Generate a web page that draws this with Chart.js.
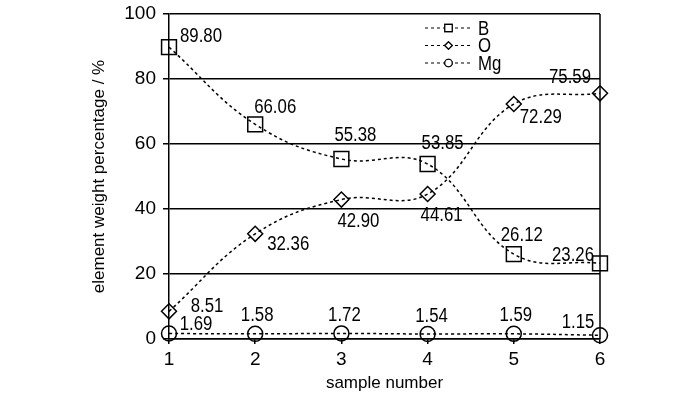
<!DOCTYPE html>
<html>
<head>
<meta charset="utf-8">
<script src="https://cdn.jsdelivr.net/npm/chart.js@4/dist/chart.umd.min.js"></script>
<style>
  html, body { margin: 0; padding: 0; background: #fff; }
</style>
</head>
<body>
<canvas id="chart" width="700" height="398"></canvas>
<script>
const samples = ['1', '2', '3', '4', '5', '6'];
const boron = [89.80, 66.06, 55.38, 53.85, 26.12, 23.26];
const oxygen = [8.51, 32.36, 42.90, 44.61, 72.29, 75.59];
const magnesium = [1.69, 1.58, 1.72, 1.54, 1.59, 1.15];
const yTicks = [0, 20, 40, 60, 80, 100];

// where each value label sits relative to its marker (dx, dy)
const labelOffsets = [
  [[32, -11], [20, -17], [14, -24], [15, -21], [8, -19], [-27, -8]],
  [[38, -5], [33, 11], [17, 22], [14, 21], [27, 13], [-30, -16]],
  [[27, -9], [2, -18], [3, -18], [4, -18], [2, -18], [-22, -13]]
];

// the original uses Arial Narrow; use it if present, otherwise squeeze Liberation Sans
function hasFont(name) {
  const c = document.createElement('canvas').getContext('2d');
  const s = 'abcdefghijklmnopqrstuvwxyz0123456789';
  c.font = '40px monospace';
  const w = c.measureText(s).width;
  c.font = `40px '${name}', monospace`;
  return c.measureText(s).width !== w;
}
const narrow = ['Liberation Sans Narrow', 'Arial Narrow'].find(hasFont);
const FONT = narrow ? `'${narrow}', sans-serif` : "'Liberation Sans', Arial, sans-serif";
const tickSize = narrow ? 20 : 19;
const titleSize = narrow ? 19 : 17;
const squeeze = narrow ? 1 : 0.84;

function series(label, data, style, radius) {
  return {
    label,
    data,
    borderColor: '#000',
    borderWidth: 1.5,
    borderDash: [3, 3],
    tension: 0.4,
    pointStyle: style,
    pointRadius: radius,
    pointBorderWidth: 1.5,
    pointBorderColor: '#000',
    pointBackgroundColor: 'rgba(0,0,0,0)',
    legendRadius: radius * 0.5,
    clip: false
  };
}

function squeezedText(ctx, text, x, y) {
  ctx.save();
  ctx.translate(x, y);
  ctx.scale(squeeze, 1);
  ctx.fillText(text, 0, 0);
  ctx.restore();
}

const valueLabels = {
  id: 'valueLabels',
  beforeDatasetsDraw(chart) {
    // right frame line
    const { ctx, chartArea } = chart;
    ctx.save();
    ctx.strokeStyle = '#000';
    ctx.lineWidth = 1.5;
    ctx.beginPath();
    ctx.moveTo(chartArea.right, chartArea.top);
    ctx.lineTo(chartArea.right, chartArea.bottom);
    ctx.stroke();
    ctx.restore();
  },
  afterDatasetsDraw(chart) {
    const { ctx, chartArea } = chart;
    ctx.save();
    ctx.fillStyle = '#000';
    ctx.font = '20px ' + FONT;
    ctx.textAlign = 'center';
    ctx.textBaseline = 'middle';
    chart.data.datasets.forEach((ds, i) => {
      chart.getDatasetMeta(i).data.forEach((pt, j) => {
        const [dx, dy] = labelOffsets[i][j];
        squeezedText(ctx, ds.data[j].toFixed(2), pt.x + dx, pt.y + dy);
      });
    });

    // legend
    const lx = chartArea.left + 256;
    const lw = 47;
    ctx.textAlign = 'left';
    ctx.strokeStyle = '#000';
    chart.data.datasets.forEach((ds, i) => {
      const y = chartArea.top + 14 + i * 17.5;
      ctx.lineWidth = 1.2;
      ctx.setLineDash([3, 3]);
      ctx.beginPath();
      ctx.moveTo(lx, y);
      ctx.lineTo(lx + lw, y);
      ctx.stroke();
      ctx.setLineDash([]);
      ctx.fillStyle = '#fff';
      Chart.helpers.drawPoint(ctx, {
        pointStyle: ds.pointStyle,
        radius: ds.legendRadius,
        rotation: 0,
        borderWidth: 1.2
      }, lx + lw / 2, y);
      ctx.fill();
      ctx.stroke();
      ctx.fillStyle = '#000';
      squeezedText(ctx, ds.label, lx + lw + 6, y + 1);
    });
    ctx.restore();
  }
};

new Chart(document.getElementById('chart'), {
  type: 'line',
  data: {
    labels: samples,
    datasets: [
      series('B', boron, 'rect', 10.5),
      series('O', oxygen, 'rectRot', 7.5),
      series('Mg', magnesium, 'circle', 7.5)
    ]
  },
  options: {
    responsive: false,
    animation: false,
    devicePixelRatio: 1,
    layout: { padding: { left: 89, right: 100, top: 14, bottom: 4 } },
    plugins: {
      legend: { display: false },
      tooltip: { enabled: false }
    },
    scales: {
      x: {
        offset: false,
        afterFit: s => { s.height = 55; },
        grid: { drawOnChartArea: false, drawTicks: true, tickLength: 5, color: '#000', lineWidth: 1.5 },
        border: { display: true, color: '#000', width: 1.5 },
        ticks: { color: '#000', padding: 4, font: { family: FONT, size: tickSize } },
        title: {
          display: true, text: 'sample number', color: '#000',
          padding: 0, font: { family: FONT, size: titleSize }
        }
      },
      y: {
        min: 0,
        max: 100,
        afterBuildTicks: s => { s.ticks = yTicks.map(v => ({ value: v })); },
        afterFit: s => { s.width = 80; s.paddingTop = 0; s.paddingBottom = 0; },
        grid: { drawOnChartArea: true, drawTicks: true, tickLength: 6, color: '#000', lineWidth: 1.5 },
        border: { display: true, color: '#000', width: 1.5 },
        ticks: { color: '#000', padding: 7, font: { family: FONT, size: tickSize } },
        title: {
          display: true, text: 'element weight percentage / %', color: '#000',
          padding: 0, font: { family: FONT, size: titleSize }
        }
      }
    }
  },
  plugins: [valueLabels]
});
</script>
</body>
</html>
